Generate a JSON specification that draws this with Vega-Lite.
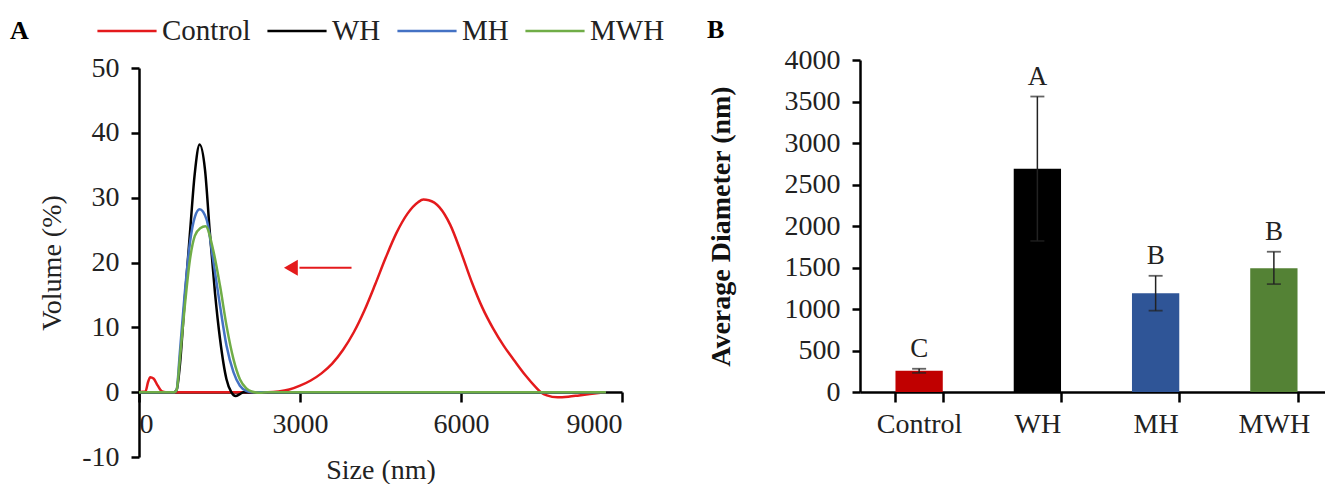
{
  "$schema": "https://vega.github.io/schema/vega-lite/v6.json",
  "background": "white",
  "padding": {"left": 10, "top": 0, "right": 0, "bottom": 0},
  "config": {
    "font": "Liberation Serif",
    "view": {"stroke": null},
    "axis": {"labelFont": "Liberation Serif", "titleFont": "Liberation Serif", "labelFontSize": 28, "titleFontSize": 28, "labelColor": "#222", "titleColor": "#222", "titleFontWeight": "normal", "domainColor": "#000", "tickColor": "#000", "domainWidth": 2.5, "tickWidth": 2.5, "grid": false}
  },
  "spacing": 42,
  "resolve": {"scale": {"color": "independent", "x": "independent", "y": "independent"}},
  "hconcat": [
    {
      "width": 483,
      "height": 397,
      "layer": [
        {
          "data": {"values": [
            {"s": "Control", "x": 0, "y": 0}, {"s": "Control", "x": 120, "y": 0.1}, {"s": "Control", "x": 170, "y": 1.6}, {"s": "Control", "x": 210, "y": 2.3}, {"s": "Control", "x": 270, "y": 2.1}, {"s": "Control", "x": 350, "y": 1.0}, {"s": "Control", "x": 430, "y": 0.1}, {"s": "Control", "x": 500, "y": 0}, {"s": "Control", "x": 1500, "y": 0}, {"s": "Control", "x": 2400, "y": 0}, {"s": "Control", "x": 2600, "y": 0.1}, {"s": "Control", "x": 2800, "y": 0.4}, {"s": "Control", "x": 3000, "y": 1.0}, {"s": "Control", "x": 3200, "y": 1.8}, {"s": "Control", "x": 3400, "y": 2.9}, {"s": "Control", "x": 3600, "y": 4.4}, {"s": "Control", "x": 3800, "y": 6.5}, {"s": "Control", "x": 4000, "y": 9.2}, {"s": "Control", "x": 4200, "y": 12.6}, {"s": "Control", "x": 4400, "y": 16.6}, {"s": "Control", "x": 4600, "y": 20.8}, {"s": "Control", "x": 4800, "y": 24.6}, {"s": "Control", "x": 5000, "y": 27.5}, {"s": "Control", "x": 5200, "y": 29.3}, {"s": "Control", "x": 5300, "y": 29.7}, {"s": "Control", "x": 5400, "y": 29.6}, {"s": "Control", "x": 5600, "y": 28.5}, {"s": "Control", "x": 5800, "y": 25.8}, {"s": "Control", "x": 6000, "y": 21.6}, {"s": "Control", "x": 6200, "y": 17.0}, {"s": "Control", "x": 6400, "y": 13.0}, {"s": "Control", "x": 6600, "y": 9.8}, {"s": "Control", "x": 6800, "y": 7.1}, {"s": "Control", "x": 7000, "y": 4.8}, {"s": "Control", "x": 7200, "y": 2.6}, {"s": "Control", "x": 7400, "y": 0.7}, {"s": "Control", "x": 7500, "y": -0.1}, {"s": "Control", "x": 7600, "y": -0.5}, {"s": "Control", "x": 7800, "y": -0.8}, {"s": "Control", "x": 8000, "y": -0.7}, {"s": "Control", "x": 8200, "y": -0.5}, {"s": "Control", "x": 8400, "y": -0.3}, {"s": "Control", "x": 8600, "y": -0.1}, {"s": "Control", "x": 8700, "y": 0},
            {"s": "WH", "x": 0, "y": 0}, {"s": "WH", "x": 650, "y": 0}, {"s": "WH", "x": 700, "y": 0.3}, {"s": "WH", "x": 760, "y": 4}, {"s": "WH", "x": 850, "y": 14}, {"s": "WH", "x": 950, "y": 24.6}, {"s": "WH", "x": 1040, "y": 33.8}, {"s": "WH", "x": 1130, "y": 38.2}, {"s": "WH", "x": 1230, "y": 34.3}, {"s": "WH", "x": 1320, "y": 24.6}, {"s": "WH", "x": 1415, "y": 15.4}, {"s": "WH", "x": 1510, "y": 8.2}, {"s": "WH", "x": 1630, "y": 2.0}, {"s": "WH", "x": 1720, "y": 0}, {"s": "WH", "x": 1800, "y": -0.6}, {"s": "WH", "x": 1880, "y": -0.3}, {"s": "WH", "x": 1950, "y": 0}, {"s": "WH", "x": 8700, "y": 0},
            {"s": "MH", "x": 0, "y": 0}, {"s": "MH", "x": 660, "y": 0}, {"s": "MH", "x": 700, "y": 0.3}, {"s": "MH", "x": 760, "y": 6}, {"s": "MH", "x": 850, "y": 15}, {"s": "MH", "x": 950, "y": 23.1}, {"s": "MH", "x": 1040, "y": 27}, {"s": "MH", "x": 1130, "y": 28.2}, {"s": "MH", "x": 1260, "y": 26.6}, {"s": "MH", "x": 1380, "y": 20.5}, {"s": "MH", "x": 1510, "y": 13.3}, {"s": "MH", "x": 1630, "y": 7.2}, {"s": "MH", "x": 1760, "y": 3.1}, {"s": "MH", "x": 1880, "y": 1.0}, {"s": "MH", "x": 2000, "y": 0.2}, {"s": "MH", "x": 2100, "y": 0}, {"s": "MH", "x": 8700, "y": 0},
            {"s": "MWH", "x": 0, "y": 0}, {"s": "MWH", "x": 660, "y": 0}, {"s": "MWH", "x": 700, "y": 0.3}, {"s": "MWH", "x": 760, "y": 5}, {"s": "MWH", "x": 850, "y": 13}, {"s": "MWH", "x": 950, "y": 20.5}, {"s": "MWH", "x": 1040, "y": 24.1}, {"s": "MWH", "x": 1140, "y": 25.3}, {"s": "MWH", "x": 1240, "y": 25.6}, {"s": "MWH", "x": 1380, "y": 22}, {"s": "MWH", "x": 1510, "y": 16.4}, {"s": "MWH", "x": 1630, "y": 10.3}, {"s": "MWH", "x": 1760, "y": 5.1}, {"s": "MWH", "x": 1880, "y": 2.0}, {"s": "MWH", "x": 2000, "y": 0.6}, {"s": "MWH", "x": 2100, "y": 0.1}, {"s": "MWH", "x": 2250, "y": -0.1}, {"s": "MWH", "x": 2400, "y": 0}, {"s": "MWH", "x": 8700, "y": 0}
          ]},
          "mark": {"type": "line", "strokeWidth": 2.5, "interpolate": "monotone"},
          "encoding": {
            "x": {"field": "x", "type": "quantitative", "scale": {"domain": [0, 9000], "nice": false}, "axis": {"title": "Size (nm)", "values": [0, 3000, 6000, 9000], "format": "d", "offset": -65, "tickSize": 10, "labelPadding": 8, "titlePadding": 18}},
            "y": {"field": "y", "type": "quantitative", "scale": {"domain": [-10, 50], "range": [397, 8], "nice": false}, "axis": {"title": "Volume (%)", "values": [-10, 0, 10, 20, 30, 40, 50], "labelExpr": "'' + datum.value", "tickSize": 8, "labelPadding": 12, "titlePadding": 15}},
            "color": {
              "field": "s", "type": "nominal",
              "scale": {"domain": ["Control", "WH", "MH", "MWH"], "range": ["#e41a1c", "#000000", "#4472c4", "#70ad47"]},
              "legend": {"orient": "none", "legendX": -129, "legendY": -60, "direction": "horizontal", "title": "A", "titleOrient": "left", "titleBaseline": "line-top", "titleLineHeight": 16, "titleFontSize": 26, "titleFontWeight": "bold", "titleFont": "Liberation Serif", "titlePadding": 67, "titleColor": "#000", "labelFontSize": 29, "labelFont": "Liberation Serif", "labelColor": "#222", "symbolType": "stroke", "symbolSize": 3500, "symbolStrokeWidth": 2.5, "labelOffset": 4, "columnPadding": 11, "padding": 0}
            }
          }
        },
        {
          "data": {"values": [{"x1": 2990, "x2": 3960, "y": 19.2}]},
          "mark": {"type": "rule", "color": "#e41a1c", "strokeWidth": 2},
          "encoding": {"x": {"field": "x1", "type": "quantitative"}, "x2": {"field": "x2"}, "y": {"field": "y", "type": "quantitative"}}
        },
        {
          "data": {"values": [{"x": 2830, "y": 19.2}]},
          "mark": {"type": "point", "shape": "triangle-left", "filled": true, "color": "#e41a1c", "size": 256, "opacity": 1},
          "encoding": {"x": {"field": "x", "type": "quantitative"}, "y": {"field": "y", "type": "quantitative"}}
        }
      ]
    },
    {
      "width": 473,
      "height": 332,
      "title": {"text": "B", "anchor": "start", "frame": "bounds", "fontSize": 26, "fontWeight": "bold", "font": "Liberation Serif", "offset": 3, "color": "#000"},
      "data": {"values": [
        {"sample": "Control", "mean": 255, "lower": 230, "upper": 280, "letter": "C"},
        {"sample": "WH", "mean": 2690, "lower": 1820, "upper": 3560, "letter": "A"},
        {"sample": "MH", "mean": 1190, "lower": 980, "upper": 1400, "letter": "B"},
        {"sample": "MWH", "mean": 1490, "lower": 1300, "upper": 1690, "letter": "B"}
      ]},
      "encoding": {
        "x": {"field": "sample", "type": "nominal", "sort": ["Control", "WH", "MH", "MWH"], "scale": {"paddingInner": 0.6, "paddingOuter": 0.3}, "axis": {"title": null, "labelAngle": 0, "tickBand": "extent", "tickSize": 10, "labelPadding": 8}}
      },
      "layer": [
        {
          "mark": {"type": "bar"},
          "encoding": {
            "y": {"field": "mean", "type": "quantitative", "scale": {"domain": [0, 4000], "nice": false}, "axis": {"title": "Average Diameter (nm)", "format": "d", "titleFontWeight": "bold", "titleColor": "#111", "values": [0, 500, 1000, 1500, 2000, 2500, 3000, 3500, 4000], "tickSize": 8, "labelPadding": 12, "titlePadding": 49}},
            "color": {"field": "sample", "type": "nominal", "scale": {"domain": ["Control", "WH", "MH", "MWH"], "range": ["#c00000", "#000000", "#2f5597", "#548235"]}, "legend": null}
          }
        },
        {
          "mark": {"type": "rule", "strokeWidth": 1.5, "color": "#222"},
          "encoding": {"y": {"field": "lower", "type": "quantitative"}, "y2": {"field": "upper"}}
        },
        {
          "mark": {"type": "tick", "thickness": 1.8, "size": 14, "color": "#222"},
          "encoding": {"y": {"field": "upper", "type": "quantitative"}}
        },
        {
          "mark": {"type": "tick", "thickness": 1.8, "size": 14, "color": "#222"},
          "encoding": {"y": {"field": "lower", "type": "quantitative"}}
        },
        {
          "mark": {"type": "text", "fontSize": 27, "baseline": "bottom", "dy": -6, "font": "Liberation Serif", "color": "#222"},
          "encoding": {"y": {"field": "upper", "type": "quantitative"}, "text": {"field": "letter"}}
        }
      ]
    }
  ]
}
